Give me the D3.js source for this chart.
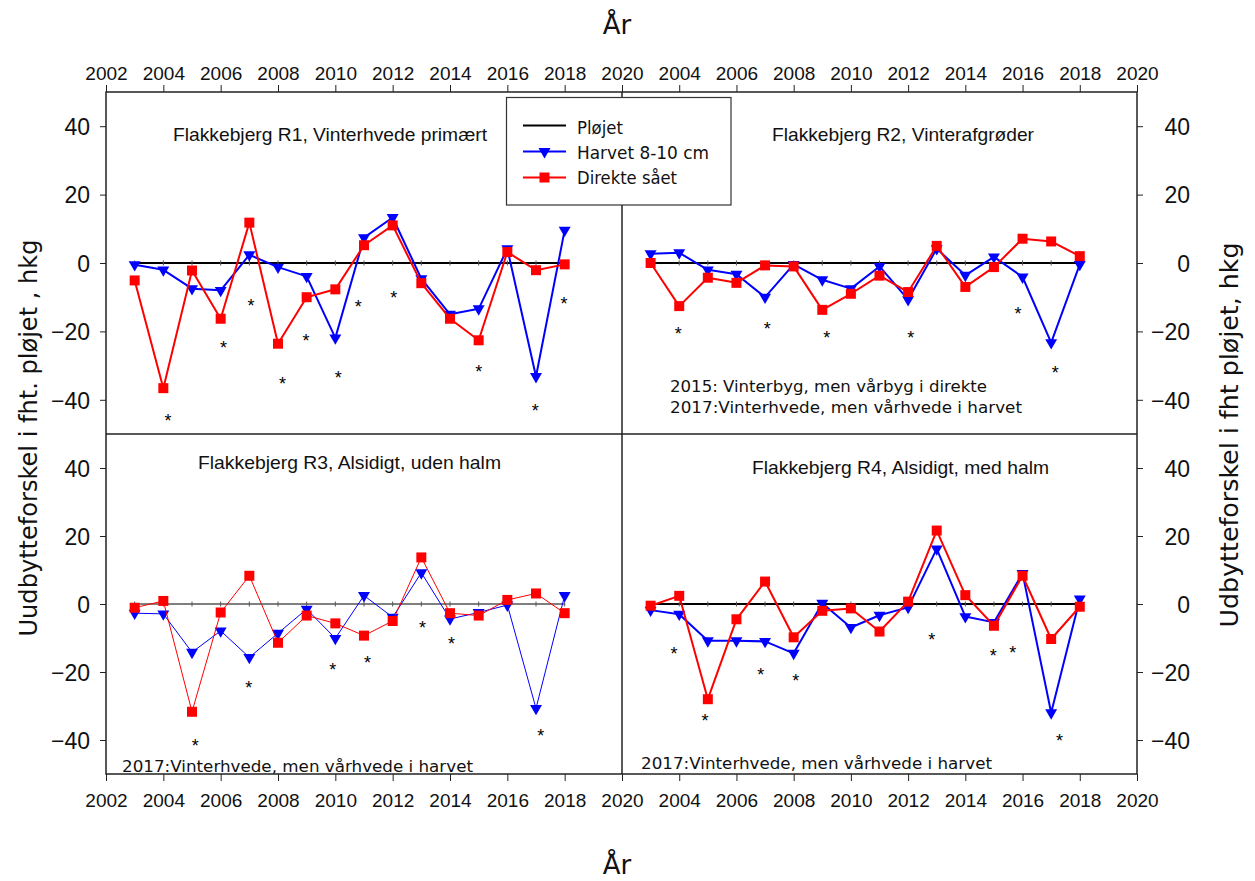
<!DOCTYPE html>
<html>
<head>
<meta charset="utf-8">
<script src="https://cdn.jsdelivr.net/npm/d3@7"></script>
<style>
  html, body { margin: 0; padding: 0; background: #fff; }
  svg { display: block; }
</style>
</head>
<body>
<svg id="chart" width="1255" height="881"></svg>
<script>
// ---------------- DATA ----------------
const years = [2003, 2004, 2005, 2006, 2007, 2008, 2009, 2010, 2011, 2012, 2013, 2014, 2015, 2016, 2017, 2018];

const r1Harvet  = [-0.5, -2, -7.5, -8, 2.4, -1.2, -3.9, -21.9, 7.4, 13.3, -4.6, -15, -13.4, 4.2, -33.2, 9.6];
const r1Direkte = [-5.1, -36.6, -2.2, -16.3, 11.8, -23.6, -10, -7.7, 5.2, 11, -5.9, -16.3, -22.6, 3.2, -2.1, -0.4];

const r2Harvet  = [2.7, 3, -2, -3.3, -10, -0.4, -4.9, -7.5, -1, -10.7, 4.2, -3.6, 1.8, -4.1, -23.3, -0.4];
const r2Direkte = [0, -12.6, -4.3, -5.8, -0.7, -1, -13.7, -9, -3.7, -8.5, 5, -7, -1.2, 7.1, 6.3, 2];

const r3Harvet  = [-2.7, -2.9, -14.2, -7.9, -15.7, -8.6, -1.5, -10.1, 2.5, -3.9, 9.2, -4.4, -2.5, -0.3, -30.7, 2.5];
const r3Direkte = [-1.1, 0.9, -31.7, -2.5, 8.3, -11.4, -3.4, -5.7, -9.3, -5, 13.7, -2.7, -3.4, 1.2, 3.1, -2.7];

const r4Harvet  = [-1.8, -3, -10.8, -10.8, -11, -14.5, 0.2, -6.9, -3.3, -1, 16.2, -3.7, -5.4, 9, -32, 1.5];
const r4Direkte = [-0.5, 2.4, -28, -4.5, 6.6, -9.8, -2, -1.3, -8.1, 0.7, 21.6, 2.6, -6.4, 8.3, -10.3, -0.8];

const ploejet = [0, 0, 0, 0, 0, 0, 0, 0, 0, 0, 0, 0, 0, 0, 0, 0];

// significance asterisks: [year, value]
const r1Stars = [[2004.16, -45.0], [2006.1, -23.7], [2007.06, -11.4], [2008.16, -34.2], [2008.98, -21.5], [2010.1, -32.5], [2010.8, -11.6], [2012.04, -9.1], [2015.0, -30.6], [2016.97, -42.0], [2017.98, -10.8]];
const r2Stars = [[2003.97, -19.6], [2007.08, -18.1], [2009.16, -20.8], [2012.09, -20.8], [2015.84, -13.7], [2017.14, -30.9]];
const r3Stars = [[2005.11, -40.6], [2006.98, -23.5], [2009.91, -18.2], [2011.12, -16.2], [2013.04, -5.9], [2014.05, -10.6], [2017.17, -37.7]];
const r4Stars = [[2003.82, -13.5], [2004.9, -33.3], [2006.85, -19.6], [2008.07, -21.6], [2012.83, -9.4], [2014.98, -14.0], [2015.66, -13.3], [2017.29, -39.0]];

const panelTitles = ["Flakkebjerg R1, Vinterhvede primært", "Flakkebjerg R2, Vinterafgrøder", "Flakkebjerg R3, Alsidigt, uden halm", "Flakkebjerg R4, Alsidigt, med halm"];
const r2Notes = ["2015: Vinterbyg, men vårbyg i direkte", "2017:Vinterhvede, men vårhvede i harvet"];
const r3Notes = ["2017:Vinterhvede, men vårhvede i harvet"];
const r4Notes = ["2017:Vinterhvede, men vårhvede i harvet"];

const legendLabels = ["Pløjet", "Harvet 8-10 cm", "Direkte sået"];
const xTickValues = [2002, 2004, 2006, 2008, 2010, 2012, 2014, 2016, 2018, 2020];
const yTickValues = [-40, -20, 0, 20, 40];
const xAxisTitle = "År";
const yAxisTitleLeft = "Uudbytteforskel i fht. pløjet , hkg";
const yAxisTitleRight = "Udbytteforskel i fht pløjet, hkg";

// ---------------- LAYOUT ----------------
const svg = d3.select("#chart");
const BLUE = "#0000ff", RED = "#ff0000";
const SANS = "'Liberation Sans', Arial, sans-serif";
const GEO = "'DejaVu Sans', 'Liberation Sans', sans-serif";

const X0 = 106, XM = 622, X1 = 1137;
const Y0 = 92, YM = 434, Y1 = 774;

const panels = [
  { x0: X0, x1: XM, y0: Y0, y1: YM, h: r1Harvet, d: r1Direkte, stars: r1Stars, title: panelTitles[0], tx: 173, ty: 140.5, tw: 314, lw: 2,
    notes: [] },
  { x0: XM, x1: X1, y0: Y0, y1: YM, h: r2Harvet, d: r2Direkte, stars: r2Stars, title: panelTitles[1], tx: 772, ty: 140.5, tw: 262, lw: 2,
    notes: [{t: r2Notes[0], x: 670, y: 391.5, w: 317}, {t: r2Notes[1], x: 670, y: 412.5, w: 352}] },
  { x0: X0, x1: XM, y0: YM, y1: Y1, h: r3Harvet, d: r3Direkte, stars: r3Stars, title: panelTitles[2], tx: 198, ty: 469, tw: 303, lw: 1,
    notes: [{t: r3Notes[0], x: 122, y: 772, w: 351}] },
  { x0: XM, x1: X1, y0: YM, y1: Y1, h: r4Harvet, d: r4Direkte, stars: r4Stars, title: panelTitles[3], tx: 752, ty: 474, tw: 297, lw: 2,
    notes: [{t: r4Notes[0], x: 641, y: 768.5, w: 351}] }
];

const triangle = d3.symbol().type(d3.symbolTriangle).size(62);
const square = d3.symbol().type(d3.symbolSquare).size(100);

panels.forEach((p, i) => {
  const x = d3.scaleLinear().domain([2002, 2020]).range([p.x0, p.x1]);
  const y = d3.scaleLinear().domain([-50, 50]).range([p.y1, p.y0]);
  const g = svg.append("g");
  const line = d3.line().x(d => x(d.year)).y(d => y(d.v));

  // zero (Pløjet) line
  const zeroData = years.map((yr, k) => ({ year: yr, v: ploejet[k] }));
  g.append("path").datum(zeroData).attr("d", line)
    .attr("fill", "none").attr("stroke", "#000").attr("stroke-width", p.lw);
  g.selectAll(".zt").data(zeroData).enter().append("line")
    .attr("x1", d => x(d.year)).attr("x2", d => x(d.year))
    .attr("y1", d => y(d.v) - 2.5).attr("y2", d => y(d.v) + 2.5)
    .attr("stroke", "#555").attr("stroke-width", 1);

  // Harvet (blue)
  const hData = years.map((yr, k) => ({ year: yr, v: p.h[k] }));
  g.append("path").datum(hData).attr("d", line)
    .attr("fill", "none").attr("stroke", BLUE).attr("stroke-width", p.lw).attr("stroke-linejoin", "round");
  g.selectAll(".tri").data(hData).enter().append("path")
    .attr("d", triangle)
    .attr("transform", d => `translate(${x(d.year)},${y(d.v)}) rotate(180)`)
    .attr("fill", BLUE);

  // Direkte (red)
  const dData = years.map((yr, k) => ({ year: yr, v: p.d[k] }));
  g.append("path").datum(dData).attr("d", line)
    .attr("fill", "none").attr("stroke", RED).attr("stroke-width", p.lw).attr("stroke-linejoin", "round");
  g.selectAll(".sq").data(dData).enter().append("path")
    .attr("d", square)
    .attr("transform", d => `translate(${x(d.year)},${y(d.v)})`)
    .attr("fill", RED);

  // asterisks
  g.selectAll(".star").data(p.stars).enter().append("text")
    .attr("x", d => x(d[0])).attr("y", d => y(d[1]) + 10)
    .attr("text-anchor", "middle")
    .attr("font-family", SANS).attr("font-size", 18).attr("fill", "#000")
    .text("*");

  // panel title
  g.append("text").attr("x", p.tx).attr("y", p.ty)
    .attr("font-family", SANS).attr("font-size", 18.5).attr("fill", "#111")
    .attr("textLength", p.tw).attr("lengthAdjust", "spacingAndGlyphs")
    .text(p.title);

  // notes
  p.notes.forEach(n => {
    g.append("text").attr("x", n.x).attr("y", n.y)
      .attr("font-family", GEO).attr("font-size", 16.5).attr("fill", "#111")
      .attr("textLength", n.w).attr("lengthAdjust", "spacingAndGlyphs")
      .text(n.t);
  });

  // axes
  const isLeft = p.x0 === X0;
  const isTop = p.y0 === Y0;
  if (isLeft) {
    const ax = g.append("g").attr("transform", `translate(${p.x0},0)`)
      .call(d3.axisLeft(y).tickValues(yTickValues).tickSize(6).tickPadding(10).tickFormat(d3.format("d")));
    ax.select(".domain").remove();
    ax.selectAll("text").attr("font-family", SANS).attr("font-size", 23).attr("fill", "#111").attr("dy", "0.36em");
    ax.selectAll("line").attr("stroke", "#222");
  } else {
    const ax = g.append("g").attr("transform", `translate(${p.x1},0)`)
      .call(d3.axisRight(y).tickValues(yTickValues).tickSize(6).tickPadding(10).tickFormat(d3.format("d")));
    ax.select(".domain").remove();
    ax.selectAll("text").attr("font-family", SANS).attr("font-size", 23).attr("fill", "#111")
      .attr("text-anchor", "end").attr("x", 53).attr("dy", "0.36em");
    ax.selectAll("line").attr("stroke", "#222");
  }
  const fmtX = d => (!isLeft && d === 2002) ? "" : String(d);
  if (isTop) {
    const ax = g.append("g").attr("transform", `translate(0,${p.y0})`)
      .call(d3.axisTop(x).tickValues(xTickValues).tickSize(7).tickPadding(5).tickFormat(fmtX));
    ax.select(".domain").remove();
    ax.selectAll("text").attr("font-family", SANS).attr("font-size", 19).attr("fill", "#111");
    ax.selectAll("line").attr("stroke", "#222");
  } else {
    const ax = g.append("g").attr("transform", `translate(0,${p.y1})`)
      .call(d3.axisBottom(x).tickValues(xTickValues).tickSize(7).tickPadding(13).tickFormat(fmtX));
    ax.select(".domain").remove();
    ax.selectAll("text").attr("font-family", SANS).attr("font-size", 19).attr("fill", "#111");
    ax.selectAll("line").attr("stroke", "#222");
  }
});

// frame
const frame = svg.append("g").attr("fill", "none").attr("stroke", "#222").attr("stroke-width", 1.5);
frame.append("rect").attr("x", X0).attr("y", Y0).attr("width", X1 - X0).attr("height", Y1 - Y0);
frame.append("line").attr("x1", XM).attr("x2", XM).attr("y1", Y0).attr("y2", Y1);
frame.append("line").attr("x1", X0).attr("x2", X1).attr("y1", YM).attr("y2", YM);

// legend
const lg = svg.append("g");
lg.append("rect").attr("x", 506.5).attr("y", 97.5).attr("width", 224.5).attr("height", 107.5)
  .attr("fill", "#fff").attr("stroke", "#333").attr("stroke-width", 1.2);
const legendRows = [
  { label: legendLabels[0], color: "#000", marker: null, ly: 125.5, ty: 133.5, w: 46 },
  { label: legendLabels[1], color: BLUE, marker: "tri", ly: 151.5, ty: 158.5, w: 132 },
  { label: legendLabels[2], color: RED, marker: "sq", ly: 177.5, ty: 184, w: 100 }
];
legendRows.forEach(r => {
  lg.append("line").attr("x1", 523).attr("x2", 566).attr("y1", r.ly).attr("y2", r.ly)
    .attr("stroke", r.color).attr("stroke-width", 2);
  if (r.marker === "tri") {
    lg.append("path").attr("d", triangle).attr("transform", `translate(544.5,${r.ly}) rotate(180)`).attr("fill", BLUE);
  } else if (r.marker === "sq") {
    lg.append("path").attr("d", square).attr("transform", `translate(544.5,${r.ly})`).attr("fill", RED);
  }
  lg.append("text").attr("x", 577).attr("y", r.ty)
    .attr("font-family", GEO).attr("font-size", 17).attr("fill", "#111")
    .attr("textLength", r.w).attr("lengthAdjust", "spacingAndGlyphs")
    .text(r.label);
});

// axis titles
svg.append("text").attr("x", 617).attr("y", 34).attr("text-anchor", "middle")
  .attr("font-family", GEO).attr("font-size", 26).attr("fill", "#111").text(xAxisTitle);
svg.append("text").attr("x", 617).attr("y", 874).attr("text-anchor", "middle")
  .attr("font-family", GEO).attr("font-size", 26).attr("fill", "#111").text(xAxisTitle);
svg.append("text").attr("transform", "translate(37,438) rotate(-90)").attr("text-anchor", "middle")
  .attr("font-family", GEO).attr("font-size", 24).attr("fill", "#111")
  .attr("textLength", 397).attr("lengthAdjust", "spacingAndGlyphs").text(yAxisTitleLeft);
svg.append("text").attr("transform", "translate(1238,435) rotate(-90)").attr("text-anchor", "middle")
  .attr("font-family", GEO).attr("font-size", 24).attr("fill", "#111")
  .attr("textLength", 385).attr("lengthAdjust", "spacingAndGlyphs").text(yAxisTitleRight);
</script>
</body>
</html>
